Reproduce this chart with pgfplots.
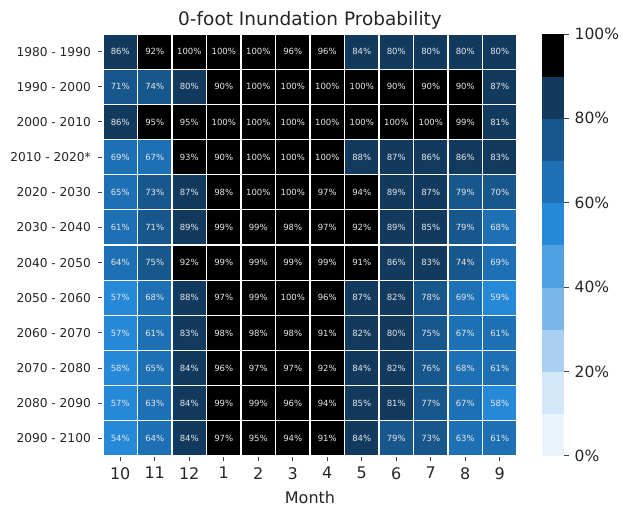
\documentclass[border=0pt]{standalone}
\usepackage{pgfplots}
\usepackage{pgfplotstable}
\pgfplotsset{compat=1.18}
\usepackage{fontspec}
\setmainfont{DejaVu Sans}
\definecolor{c0}{HTML}{EAF3FC}
\definecolor{c1}{HTML}{D3E7F8}
\definecolor{c2}{HTML}{AACFF0}
\definecolor{c3}{HTML}{7AB7E8}
\definecolor{c4}{HTML}{4FA0E0}
\definecolor{c5}{HTML}{2589D8}
\definecolor{c6}{HTML}{1D70B3}
\definecolor{c7}{HTML}{18578C}
\definecolor{c8}{HTML}{123A5F}
\definecolor{c9}{HTML}{000000}
\definecolor{celltext}{HTML}{E6E6E6}
\pgfplotstableread{
x y v
0 0 54
1 0 64
2 0 84
3 0 97
4 0 95
5 0 94
6 0 91
7 0 84
8 0 79
9 0 73
10 0 63
11 0 61
0 1 57
1 1 63
2 1 84
3 1 99
4 1 99
5 1 96
6 1 94
7 1 85
8 1 81
9 1 77
10 1 67
11 1 58
0 2 58
1 2 65
2 2 84
3 2 96
4 2 97
5 2 97
6 2 92
7 2 84
8 2 82
9 2 76
10 2 68
11 2 61
0 3 57
1 3 61
2 3 83
3 3 98
4 3 98
5 3 98
6 3 91
7 3 82
8 3 80
9 3 75
10 3 67
11 3 61
0 4 57
1 4 68
2 4 88
3 4 97
4 4 99
5 4 100
6 4 96
7 4 87
8 4 82
9 4 78
10 4 69
11 4 59
0 5 64
1 5 75
2 5 92
3 5 99
4 5 99
5 5 99
6 5 99
7 5 91
8 5 86
9 5 83
10 5 74
11 5 69
0 6 61
1 6 71
2 6 89
3 6 99
4 6 99
5 6 98
6 6 97
7 6 92
8 6 89
9 6 85
10 6 79
11 6 68
0 7 65
1 7 73
2 7 87
3 7 98
4 7 100
5 7 100
6 7 97
7 7 94
8 7 89
9 7 87
10 7 79
11 7 70
0 8 69
1 8 67
2 8 93
3 8 90
4 8 100
5 8 100
6 8 100
7 8 88
8 8 87
9 8 86
10 8 86
11 8 83
0 9 86
1 9 95
2 9 95
3 9 100
4 9 100
5 9 100
6 9 100
7 9 100
8 9 100
9 9 100
10 9 99
11 9 81
0 10 71
1 10 74
2 10 80
3 10 90
4 10 100
5 10 100
6 10 100
7 10 100
8 10 90
9 10 90
10 10 90
11 10 87
0 11 86
1 11 92
2 11 100
3 11 100
4 11 100
5 11 96
6 11 96
7 11 84
8 11 80
9 11 80
10 11 80
11 11 80
}\heat
\begin{document}
\begin{tikzpicture}
\useasboundingbox (-103pt,-51pt) rectangle (520pt,456pt);
\begin{axis}[
  at={(0,0)}, anchor=south west,
  scale only axis, width=414pt, height=422pt,
  xmin=-0.5, xmax=11.5, ymin=-0.5, ymax=11.5,
  enlargelimits=false,
  clip=true,
  axis line style={draw=none},
  /pgf/number format/assume math mode=true,
  xtick={0,...,11},
  xticklabels={10,11,12,1,2,3,4,5,6,7,8,9},
  ytick={0,...,11},
  yticklabels={2090 - 2100,2080 - 2090,2070 - 2080,2060 - 2070,2050 - 2060,2040 - 2050,2030 - 2040,2020 - 2030,2010 - 2020*,2000 - 2010,1990 - 2000,1980 - 1990},
  xtick pos=bottom, ytick pos=left,
  tick align=outside,
  major tick length=5pt,
  major tick style={black!75, line width=0.9pt},
  xticklabel style={font=\fontsize{16}{18}\selectfont, text=black!85, inner sep=6pt},
  yticklabel style={font=\fontsize{12.2}{14}\selectfont, text=black!85, inner sep=7pt},
  title={0-foot Inundation Probability},
  title style={font=\fontsize{18.5}{20}\selectfont, text=black!85, at={(axis description cs:0.5,1)}, anchor=base, yshift=2pt},
  xlabel={Month},
  xlabel style={font=\fontsize{16}{18}\selectfont, text=black!85, at={(axis description cs:0.5,0)}, anchor=base, yshift=-47pt},
  colormap access=piecewise constant,
  colormap={heat}{color=(c0) color=(c1) color=(c2) color=(c3) color=(c4) color=(c5) color=(c6) color=(c7) color=(c8) color=(c9)},
  point meta min=-0.05, point meta max=100,
  colorbar,
  colorbar style={
    width=22pt,
    at={(parent axis.north east)}, anchor=north west, xshift=16pt,
    ytick={0,20,40,60,80,100},
    yticklabels={0\%,20\%,40\%,60\%,80\%,100\%},
    yticklabel style={font=\fontsize{15.5}{17}\selectfont, text=black!85, inner sep=6pt},
    axis line style={draw=none},
    major tick length=5pt,
    major tick style={black!75, line width=0.9pt},
    ytick pos=right, tick align=outside,
  },
]
\addplot[scatter, only marks, mark=square*, mark size=17.25pt,
  mark options={yscale=1.0194, line width=1.3pt},
  scatter/use mapped color={draw=white, fill=mapped color},
  point meta=explicit] table[x=x, y=y, meta=v] {\heat};
\addplot[only marks, mark=none, point meta=explicit,
  nodes near coords={\pgfmathprintnumber[fixed,precision=0]{\pgfplotspointmeta}\%},
  nodes near coords align=center,
  every node near coord/.append style={font=\fontsize{8.5}{9}\selectfont, text=celltext, anchor=center, inner sep=0pt}]
  table[x=x, y=y, meta=v] {\heat};
\end{axis}
\end{tikzpicture}
\end{document}
